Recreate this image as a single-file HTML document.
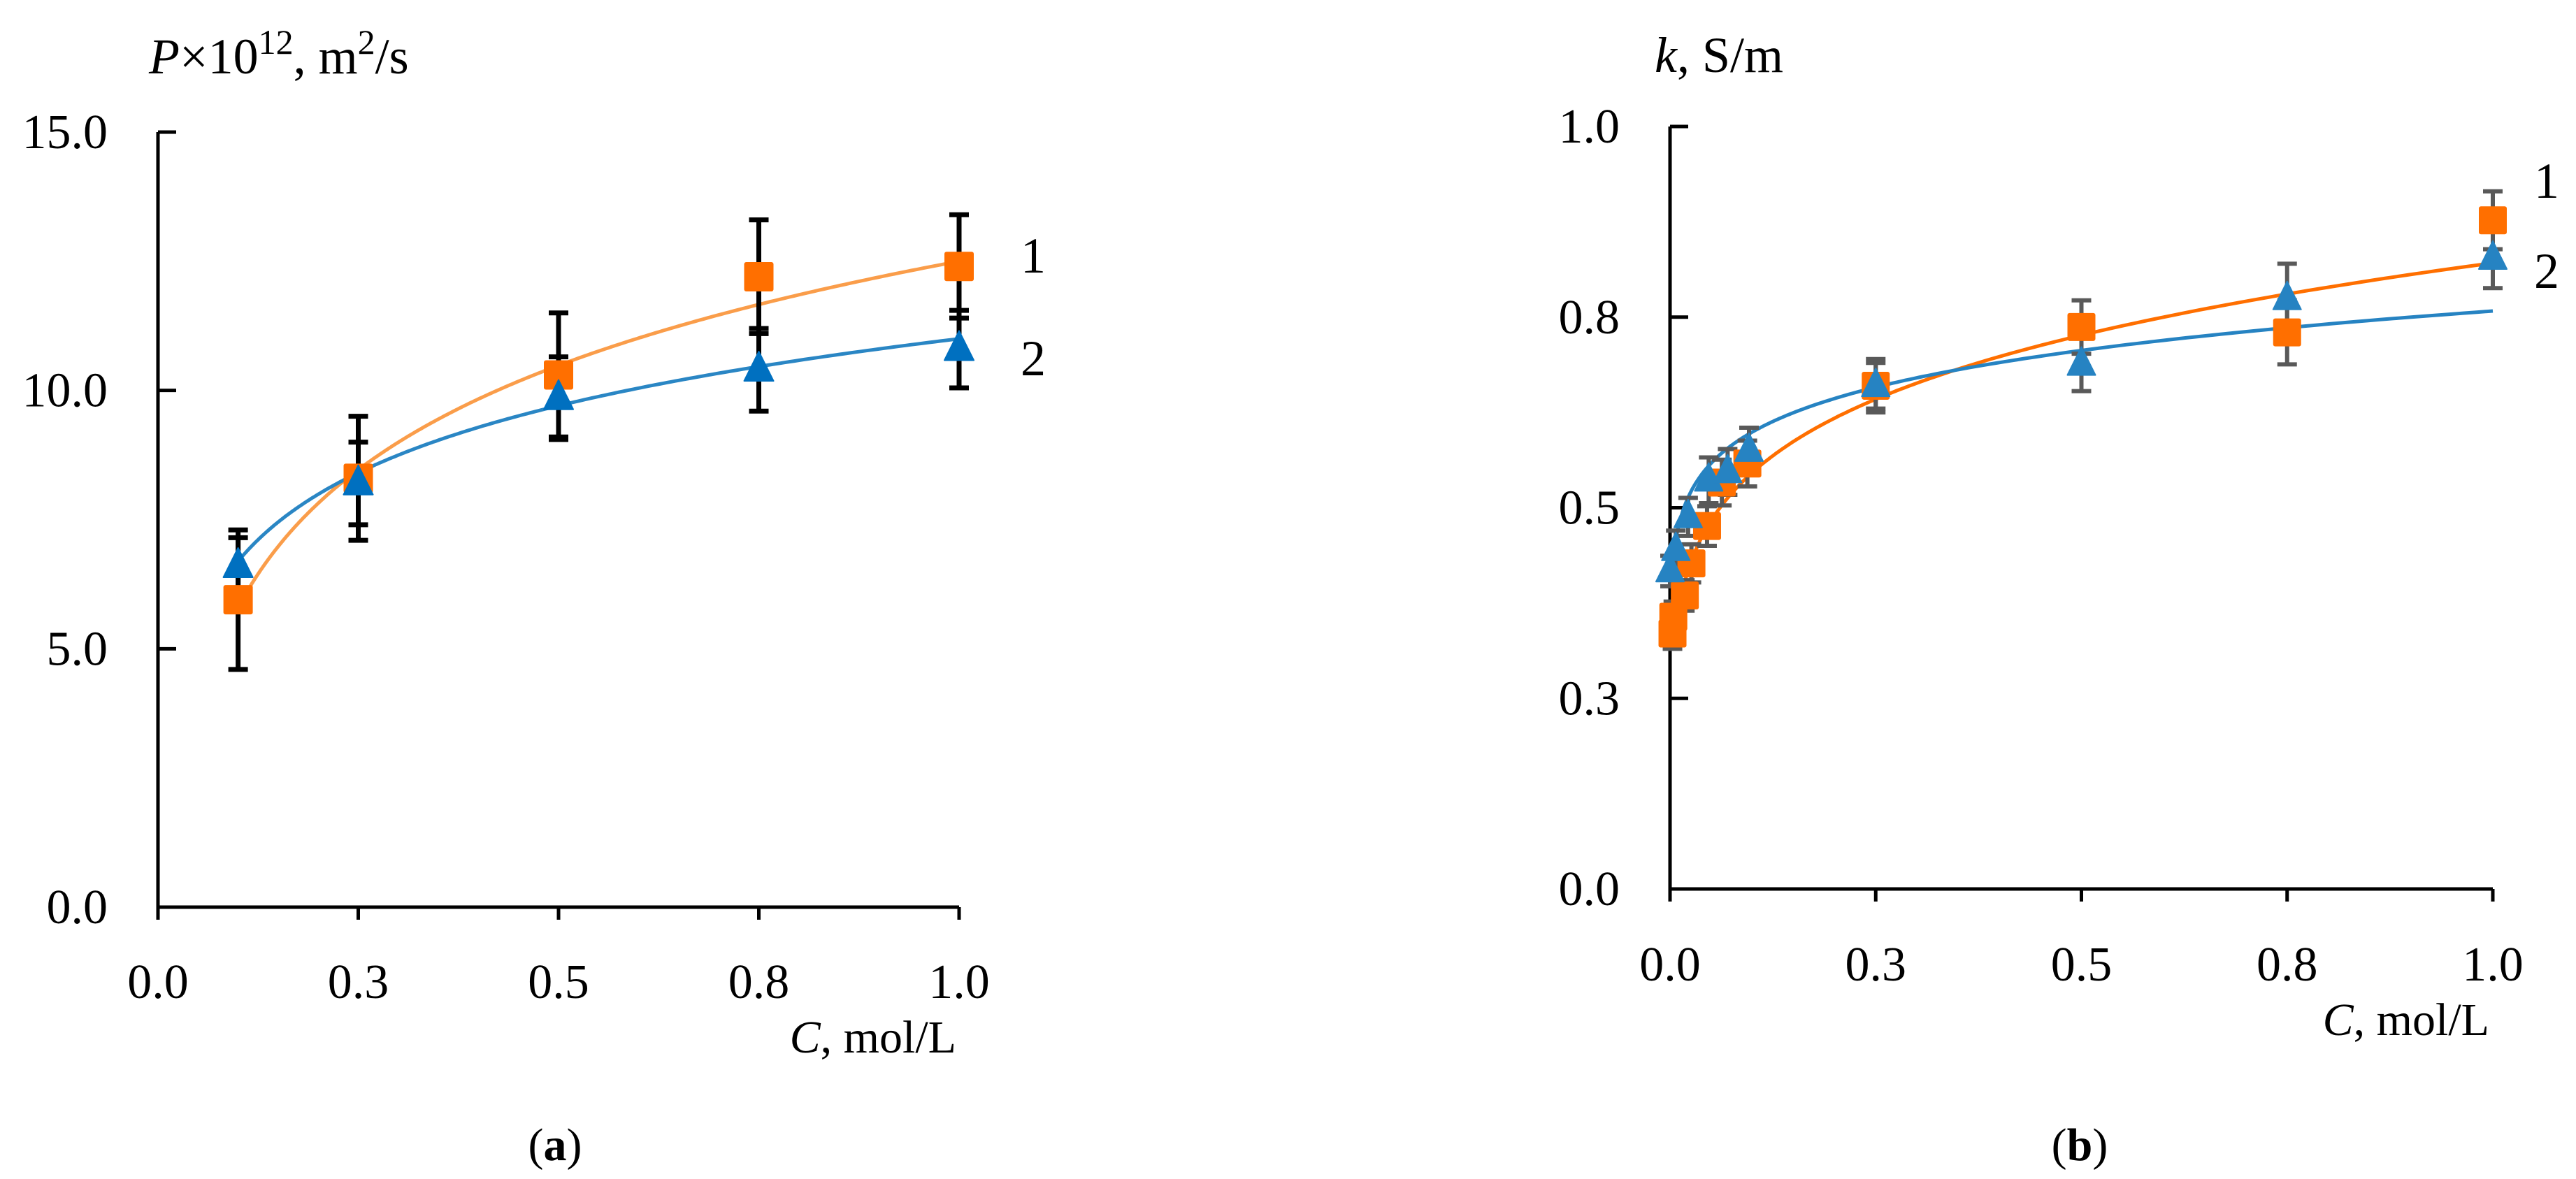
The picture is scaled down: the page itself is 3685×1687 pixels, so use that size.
<!DOCTYPE html>
<html><head><meta charset="utf-8"><style>
html,body{margin:0;padding:0;background:#fff;}
svg{display:block;font-family:"Liberation Serif",serif;}
</style></head><body>
<svg id="fig" width="3685" height="1687" viewBox="0 0 3685 1687" xmlns="http://www.w3.org/2000/svg">
<g id="chartA"></g>
<g id="chartB"></g>
<text x="213" y="105" font-size="72"><tspan font-style="italic">P</tspan>×10<tspan font-size="50" dy="-28">12</tspan><tspan dy="28">, m</tspan><tspan font-size="50" dy="-28">2</tspan><tspan dy="28">/s</tspan></text>
<text x="1368" y="1506" font-size="66" text-anchor="end"><tspan font-style="italic">C</tspan>, mol/L</text>
<text x="794" y="1660" font-size="66" text-anchor="middle">(<tspan font-weight="bold">a</tspan>)</text>
<text x="1460" y="390" font-size="72">1</text>
<text x="1460" y="537" font-size="72">2</text>
<text x="2367" y="103" font-size="72"><tspan font-style="italic">k</tspan>, S/m</text>
<text x="3561" y="1481" font-size="66" text-anchor="end"><tspan font-style="italic">C</tspan>, mol/L</text>
<text x="2975" y="1660" font-size="66" text-anchor="middle">(<tspan font-weight="bold">b</tspan>)</text>
<text x="3625" y="283" font-size="72">1</text>
<text x="3625" y="412" font-size="72">2</text>
</svg>
<script>
// ---- Chart A data ----
const aXTicks = [0, 0.25, 0.5, 0.75, 1.0];
const aXTickLabels = ["0.0", "0.3", "0.5", "0.8", "1.0"];
const aYTicks = [0, 5, 10, 15];
const aYTickLabels = ["0.0", "5.0", "10.0", "15.0"];
const aX = [0.1, 0.25, 0.5, 0.75, 1.0];
const aS1 = [5.95, 8.3, 10.3, 12.2, 12.4];
const aS1Err = [1.35, 1.2, 1.2, 1.1, 1.0];
const aS2 = [6.6, 8.2, 9.85, 10.4, 10.8];
const aS2Err = [0.55, 0.8, 0.8, 0.8, 0.75];
const aFit1 = [12.5, 2.91]; // y = a + b ln x
const aFit2 = [11.0, 1.87];
// ---- Chart B data ----
const bXTicks = [0, 0.25, 0.5, 0.75, 1.0];
const bXTickLabels = ["0.0", "0.3", "0.5", "0.8", "1.0"];
const bYTicks = [0, 0.25, 0.5, 0.75, 1.0];
const bYTickLabels = ["0.0", "0.3", "0.5", "0.8", "1.0"];
const bX1 = [0.003, 0.004, 0.018, 0.026, 0.045, 0.063, 0.094, 0.25, 0.5, 0.75, 1.0];
const bS1 = [0.335, 0.357, 0.385, 0.427, 0.476, 0.533, 0.558, 0.66, 0.737, 0.73, 0.877];
const bS1Err = [0.02, 0.02, 0.02, 0.025, 0.026, 0.03, 0.03, 0.03, 0.035, 0.042, 0.038];
const bX2 = [0.0, 0.007, 0.022, 0.047, 0.07, 0.096, 0.25, 0.5, 0.75, 1.0];
const bS2 = [0.417, 0.445, 0.488, 0.536, 0.547, 0.575, 0.66, 0.688, 0.774, 0.827];
const bS2Err = [0.02, 0.025, 0.025, 0.03, 0.03, 0.03, 0.035, 0.035, 0.046, 0.039];
const bFit1 = [0.821, 0.177]; // y = a x^b
const bFit2 = [0.758, 0.102];

const NS = "http://www.w3.org/2000/svg";
function mk(parent, tag, attrs){
  const e = document.createElementNS(NS, tag);
  for (const k in attrs) e.setAttribute(k, attrs[k]);
  parent.appendChild(e);
  return e;
}
function drawChart(g, o){
  const sx = v => o.x0 + (v - o.xmin)/(o.xmax - o.xmin)*(o.x1 - o.x0);
  const sy = v => o.y0 - (v - o.ymin)/(o.ymax - o.ymin)*(o.y0 - o.y1);
  const ax = mk(g, "path", {d:`M${o.x0},${o.y1} V${o.y0} H${o.x1}`, fill:"none", stroke:"#000", "stroke-width":5});
  
  
  o.yTicks.forEach((t,i)=>{
    const tk = mk(g, "line", {x1:o.x0, x2:o.x0+26, y1:sy(t), y2:sy(t), stroke:"#000", "stroke-width":5});
    
    
    const tl = mk(g, "text", {x:o.x0-o.yLabGap, y:sy(t)+23, "font-size":70, "text-anchor":"end"});
    tl.textContent = o.yLabels[i];
    
    
  });
  o.xTicks.forEach((t,i)=>{
    const tk = mk(g, "line", {x1:sx(t), x2:sx(t), y1:o.y0, y2:o.y0+18, stroke:"#000", "stroke-width":5});
    
    
    const tl = mk(g, "text", {x:sx(t), y:o.xLabY, "font-size":70, "text-anchor":"middle"});
    tl.textContent = o.xLabels[i];
    
    
  });
  o.fits.forEach(f=>{
    let d = "";
    for (let i=0;i<=300;i++){
      const xv = f.from * Math.pow(1/f.from, i/300);
      const yv = f.fn(xv);
      d += (i?"L":"M") + sx(xv).toFixed(1) + "," + sy(yv).toFixed(1);
    }
    const p = mk(g, "path", {d:d, fill:"none", stroke:f.color, "stroke-width":5});
    
    
  });
  o.series.forEach(s=>{
    s.x.forEach((xv,i)=>{
      const cx = sx(xv);
      const t = sy(s.y[i]+s.err[i]), b = sy(s.y[i]-s.err[i]);
      const eb = mk(g, "path", {d:`M${cx},${t} V${b} M${cx-14},${t} H${cx+14} M${cx-14},${b} H${cx+14}`, stroke:o.errColor, "stroke-width":o.errW, fill:"none"});
      
      
    });
  });
  o.series.forEach(s=>{
    s.x.forEach((xv,i)=>{
      const cx = sx(xv), cy = sy(s.y[i]);
      let m;
      if (s.shape === "square"){
        m = mk(g, "rect", {x:cx-o.ms/2, y:cy-o.ms/2, width:o.ms, height:o.ms, rx:3, fill:s.color});
      } else {
        const h = o.ms;
        m = mk(g, "path", {d:`M${cx},${cy-h*0.62} L${cx+h/2},${cy+h*0.38} L${cx-h/2},${cy+h*0.38}Z`, fill:s.color, "stroke-linejoin":"round", stroke:s.color, "stroke-width":2});
      }
      
      
    });
  });
}
drawChart(document.getElementById("chartA"), {
  x0:226, x1:1372, y0:1298, y1:189, xmin:0, xmax:1, ymin:0, ymax:15,
  xTicks:aXTicks, xLabels:aXTickLabels, yTicks:aYTicks, yLabels:aYTickLabels,
  yLabGap:72, xLabY:1428, errColor:"#000", errW:7, ms:42,
  fits:[
    {name:"fit-line-1", color:"#FA9D4A", from:0.1, fn:x=>aFit1[0]+aFit1[1]*Math.log(x)},
    {name:"fit-line-2", color:"#2A86C4", from:0.1, fn:x=>aFit2[0]+aFit2[1]*Math.log(x)}
  ],
  series:[
    {name:"series-1-point", shape:"square", color:"#FF6F00", x:aX, y:aS1, err:aS1Err},
    {name:"series-2-point", shape:"tri", color:"#0070C0", x:aX, y:aS2, err:aS2Err}
  ]
});
drawChart(document.getElementById("chartB"), {
  x0:2389, x1:3566, y0:1272, y1:181, xmin:0, xmax:1, ymin:0, ymax:1,
  xTicks:bXTicks, xLabels:bXTickLabels, yTicks:bYTicks, yLabels:bYTickLabels,
  yLabGap:72, xLabY:1403, errColor:"#595959", errW:6, ms:40,
  fits:[
    {name:"fit-line-1", color:"#FF6F00", from:0.005, fn:x=>bFit1[0]*Math.pow(x,bFit1[1])},
    {name:"fit-line-2", color:"#2683C2", from:0.004, fn:x=>bFit2[0]*Math.pow(x,bFit2[1])}
  ],
  series:[
    {name:"series-1-point", shape:"square", color:"#FF6F00", x:bX1, y:bS1, err:bS1Err},
    {name:"series-2-point", shape:"tri", color:"#2683C2", x:bX2, y:bS2, err:bS2Err}
  ]
});
</script>
</body></html>
